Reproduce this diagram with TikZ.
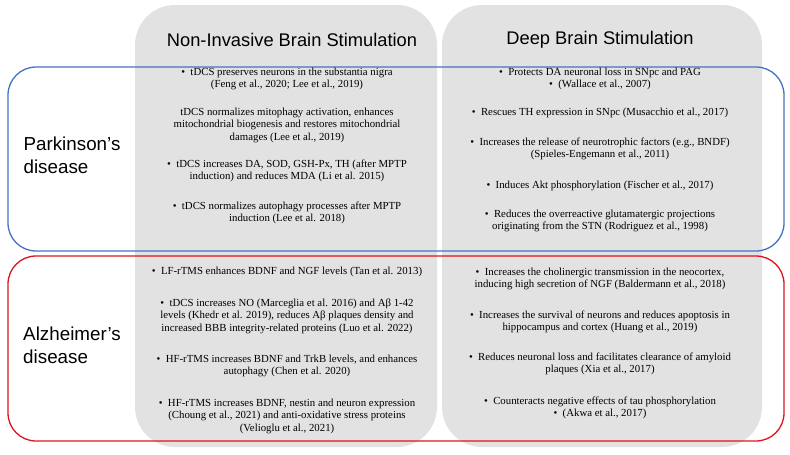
\documentclass[tikz,border=0pt]{standalone}
\usepackage{fontspec}
\setmainfont{Liberation Serif}
\setsansfont{Liberation Sans}
\usetikzlibrary{positioning}
\definecolor{colgray}{RGB}{226,226,226}
\definecolor{pdblue}{RGB}{68,114,196}
\definecolor{adred}{RGB}{220,20,30}
\tikzset{
  column/.style={fill=colgray, rounded corners=40pt},
  header/.style={font=\sffamily\fontsize{18.3}{22}\selectfont},
  disease/.style={font=\sffamily\fontsize{18.8}{23}\selectfont, align=left},
  item/.style={font=\fontsize{10.8}{12.5}\selectfont, align=center, inner sep=0pt}
}
\newcommand{\bul}{\textbullet\ \ }
\begin{document}
\begin{tikzpicture}[x=1pt, y=-1pt]
    \useasboundingbox (0,0) rectangle (790,455);
    \fill[column] (135,5) rectangle (437,447);
    \fill[column] (442,5) rectangle (762,447);
    \draw[pdblue, line width=1.3pt, rounded corners=28pt] (8,67) rectangle (784,251);
    \draw[adred, line width=1.3pt, rounded corners=28pt] (8,256) rectangle (784,441);

    \node[header] (nibs) at (292,40) {Non-Invasive Brain Stimulation};
    \node[header] (dbs) at (600,40) {Deep Brain Stimulation};
    \node[disease] (pd) at (72,155) {Parkinson's\\disease};
    \node[disease] (ad) at (72,345) {Alzheimer's\\disease};

    % Parkinson's, non-invasive
    \node[item] (pn1) at (287,79) {\bul tDCS preserves neurons in the substantia nigra\\(Feng et al., 2020; Lee et al., 2019)};
    \node[item] (pn2) at (287,125) {tDCS normalizes mitophagy activation, enhances\\mitochondrial biogenesis and restores mitochondrial\\damages (Lee et al., 2019)};
    \node[item] (pn3) at (287,171) {\bul tDCS increases DA, SOD, GSH-Px, TH (after MPTP\\induction) and reduces MDA (Li et al. 2015)};
    \node[item] (pn4) at (287,213) {\bul tDCS normalizes autophagy processes after MPTP\\induction (Lee et al. 2018)};

    % Parkinson's, deep
    \node[item] (pd1) at (600,79) {\bul Protects DA neuronal loss in SNpc and PAG\\\bul (Wallace et al., 2007)};
    \node[item] (pd2) at (600,113) {\bul Rescues TH expression in SNpc (Musacchio et al., 2017)};
    \node[item] (pd3) at (600,149) {\bul Increases the release of neurotrophic factors (e.g., BNDF)\\(Spieles-Engemann et al., 2011)};
    \node[item] (pd4) at (600,186) {\bul Induces Akt phosphorylation (Fischer et al., 2017)};
    \node[item] (pd5) at (600,221) {\bul Reduces the overreactive glutamatergic projections\\originating from the STN (Rodriguez et al., 1998)};

    % Alzheimer's, non-invasive
    \node[item] (an1) at (287,272) {\bul LF-rTMS enhances BDNF and NGF levels (Tan et al. 2013)};
    \node[item] (an2) at (287,316) {\bul tDCS increases NO (Marceglia et al. 2016) and Aβ 1-42\\levels (Khedr et al. 2019), reduces Aβ plaques density and\\increased BBB integrity-related proteins (Luo et al. 2022)};
    \node[item] (an3) at (287,366) {\bul HF-rTMS increases BDNF and TrkB levels, and enhances\\autophagy (Chen et al. 2020)};
    \node[item] (an4) at (287,416) {\bul HF-rTMS increases BDNF, nestin and neuron expression\\(Choung et al., 2021) and anti-oxidative stress proteins\\(Velioglu et al., 2021)};

    % Alzheimer's, deep
    \node[item] (ad1) at (600,279) {\bul Increases the cholinergic transmission in the neocortex,\\inducing high secretion of NGF (Baldermann et al., 2018)};
    \node[item] (ad2) at (600,322) {\bul Increases the survival of neurons and reduces apoptosis in\\hippocampus and cortex (Huang et al., 2019)};
    \node[item] (ad3) at (600,364) {\bul Reduces neuronal loss and facilitates clearance of amyloid\\plaques (Xia et al., 2017)};
    \node[item] (ad4) at (600,408) {\bul Counteracts negative effects of tau phosphorylation\\\bul (Akwa et al., 2017)};
\end{tikzpicture}
\end{document}
